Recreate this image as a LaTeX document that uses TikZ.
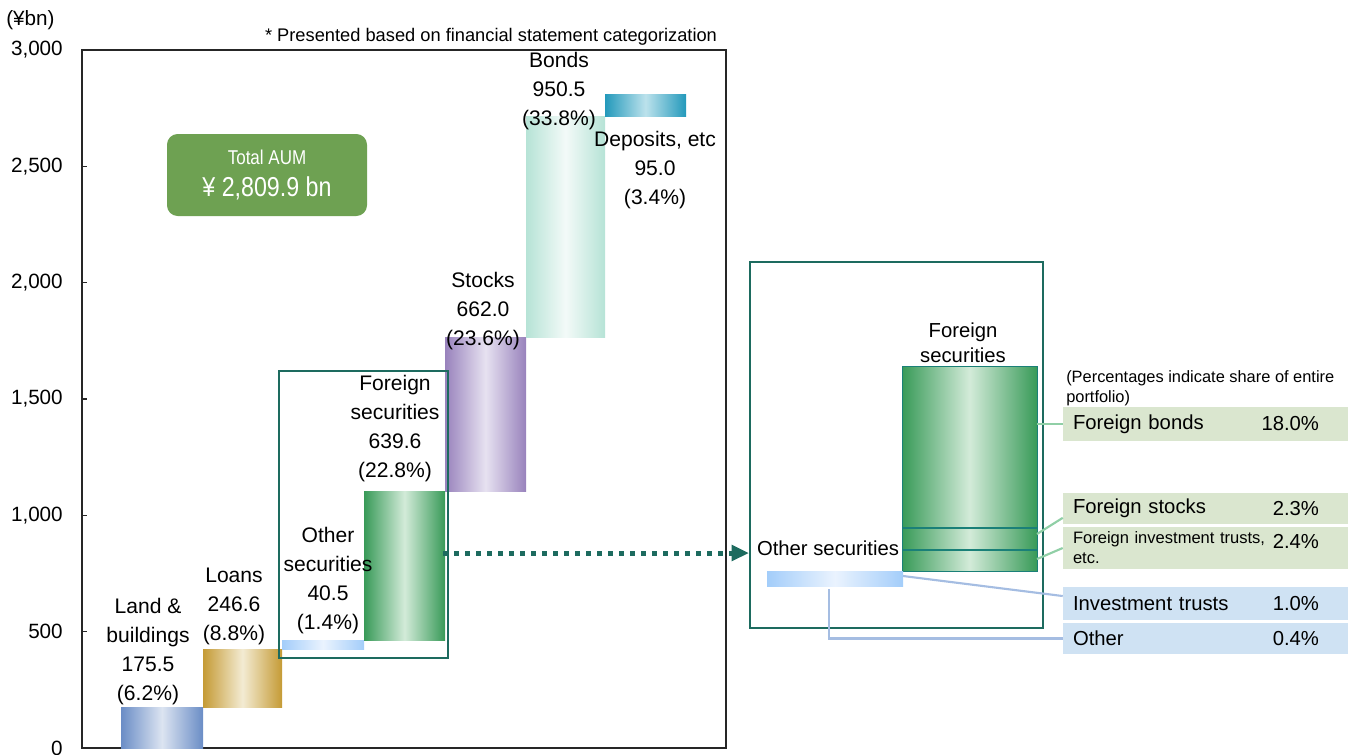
\documentclass[tikz,border=0pt]{standalone}
\usepackage{fontspec}
\setmainfont{Liberation Sans}
\newfontfamily\narrowfont[FakeStretch=0.85]{Liberation Sans}
\usetikzlibrary{arrows.meta}

\definecolor{boxteal}{HTML}{1D6B5F}
\definecolor{aumgreen}{HTML}{6EA152}
\definecolor{leggreen}{HTML}{DAE6CF}
\definecolor{legblue}{HTML}{CFE2F3}
\definecolor{linkgreen}{HTML}{90CFA6}
\definecolor{linkblue}{HTML}{A5BDE2}
\definecolor{landdark}{HTML}{6A8DC6}
\definecolor{landlight}{HTML}{DCE4F1}
\definecolor{loandark}{HTML}{C59B35}
\definecolor{loanlight}{HTML}{F3EBD3}
\definecolor{othdark}{HTML}{A3CDFA}
\definecolor{othlight}{HTML}{EAF3FE}
\definecolor{fordark}{HTML}{389A58}
\definecolor{forlight}{HTML}{D3EBD9}
\definecolor{stockdark}{HTML}{9882BC}
\definecolor{stocklight}{HTML}{E7E2F1}
\definecolor{bonddark}{HTML}{B6E3D6}
\definecolor{bondlight}{HTML}{F3FAF8}
\definecolor{depdark}{HTML}{2399BB}
\definecolor{deplight}{HTML}{BCE2EC}
\definecolor{forline}{HTML}{1A8078}

\begin{document}
\begin{tikzpicture}[x=0.75pt, y=-0.75pt,
        every node/.style={inner sep=0pt},
        lbl/.style={align=center, font=\fontsize{15.8}{21.75}\selectfont},
        ticklbl/.style={anchor=east, font=\fontsize{15.5}{18}\selectfont},
        bar/.style 2 args={left color=#1, right color=#1, middle color=#2},
        axisline/.style={black!85, line width=0.9pt},
        hlbox/.style={boxteal, line width=2pt},
        leg/.style={fill=#1, minimum width=213.75pt, text width=198.75pt,
            inner xsep=7.5pt, align=left, font=\fontsize{15.2}{18}\selectfont},
        pct/.style={anchor=east, font=\fontsize{15.2}{18}\selectfont},
        greenlink/.style={linkgreen, line width=1.6pt},
        bluelink/.style={linkblue, line width=1.6pt},
        dotlink/.style={boxteal, line width=3.75pt, dash pattern=on 3.5pt off 4.75pt,
            -{Triangle[length=13pt, width=11.5pt]}}
    ]
    \useasboundingbox (0,0) rectangle (1359,754);

    % axis frame and ticks
    \draw[axisline] (82,50) rectangle (726,748);
    \node[anchor=west, font=\fontsize{15.5}{18}\selectfont] (unit) at (6,20) {(¥bn)};
    \foreach \v/\t in {0/0, 500/500, 1000/{1,000}, 1500/{1,500}, 2000/{2,000}, 2500/{2,500}, 3000/{3,000}} {
        \pgfmathsetmacro\ty{748-\v*0.232667}
        \draw[axisline] (82,\ty) -- (87,\ty);
        \node[ticklbl] (tick\v) at (63,\ty) {\t};
    }
    \node[font=\fontsize{13.7}{16}\selectfont] (note) at (491,37)
        {* Presented based on financial statement categorization};

    % waterfall bars
    \shade[bar={landdark}{landlight}] (121,748) rectangle (203,707.2);
    \shade[bar={loandark}{loanlight}] (203,707.2) rectangle (282,649.8);
    \shade[bar={othdark}{othlight}] (282,649.8) rectangle (364,640.4);
    \shade[bar={fordark}{forlight}] (364,640.4) rectangle (445,491.6);
    \shade[bar={stockdark}{stocklight}] (445,491.6) rectangle (526,337.5);
    \shade[bar={bonddark}{bondlight}] (526,337.5) rectangle (605,116.4);
    \shade[bar={depdark}{deplight}] (605,116.4) rectangle (686,94.3);

    % total box
    \node[fill=aumgreen, rounded corners=8pt, minimum width=150pt, minimum height=61.5pt,
        text=white, align=center, font=\narrowfont\fontsize{15}{24}\selectfont]
        (aum) at (267,175) {Total AUM\\{\fontsize{20.5}{24}\selectfont ¥ 2,809.9 bn}};

    % bar labels
    \node[lbl] (land) at (148,651.5) {Land \&\\buildings\\175.5\\(6.2\%)};
    \node[lbl] (loans) at (234,606.5) {Loans\\246.6\\(8.8\%)};
    \node[lbl] (othsec) at (328,581) {Other\\securities\\40.5\\(1.4\%)};
    \node[lbl] (forsec) at (395,428.5) {Foreign\\securities\\639.6\\(22.8\%)};
    \node[lbl] (stocks) at (483,311) {Stocks\\662.0\\(23.6\%)};
    \node[lbl] (bonds) at (559,91.5) {Bonds\\950.5\\(33.8\%)};
    \node[lbl] (deposits) at (655,170.5) {Deposits, etc\\95.0\\(3.4\%)};

    % securities frame and the zoomed frame
    \draw[hlbox] (279,371) rectangle (448,658);
    \draw[hlbox] (750,262) rectangle (1043,628);
    \coordinate (zoomout) at (443,553);
    \coordinate (zoomin) at (749,553);
    \draw[dotlink] (zoomout) -- (zoomin);

    % breakdown bars
    \shade[bar={fordark}{forlight}] (902,366) rectangle (1037,571);
    \draw[forline, line width=0.7pt] (902,366) rectangle (1037,571);
    \draw[forline, line width=1pt] (902,528) -- (1037,528);
    \draw[forline, line width=1pt] (902,550) -- (1037,550);
    \shade[bar={othdark}{othlight}] (767,571) rectangle (903,586);
    \node[lbl, font=\fontsize{15.2}{18.75}\selectfont] (forhead) at (963,342.5) {Foreign\\securities};
    \node[font=\fontsize{15.2}{18}\selectfont] (othhead) at (828,548) {Other securities};

    % breakdown legend
    \node[anchor=west, align=left, font=\fontsize{12.3}{15}\selectfont] (share) at (1066,388)
        {(Percentages indicate share of entire\\portfolio)};
    \node[leg=leggreen, minimum height=25.5pt] (fbonds) at (1205.5,424) {Foreign bonds};
    \node[leg=leggreen, minimum height=23.25pt] (fstocks) at (1205.5,508.5) {Foreign stocks};
    \node[leg=leggreen, minimum height=31.5pt, font=\fontsize{12.4}{15}\selectfont]
        (ftrusts) at (1205.5,548) {Foreign investment trusts,\\etc.};
    \node[leg=legblue, minimum height=24.75pt] (itrusts) at (1205.5,603.5) {Investment trusts};
    \node[leg=legblue, minimum height=23.25pt] (other) at (1205.5,638.5) {Other};
    \node[pct] (fbonds-pct) at ([xshift=-21.75pt]fbonds.east) {18.0\%};
    \node[pct] (fstocks-pct) at ([xshift=-21.75pt]fstocks.east) {2.3\%};
    \node[pct] (ftrusts-pct) at ([xshift=-21.75pt, yshift=5pt]ftrusts.east) {2.4\%};
    \node[pct] (itrusts-pct) at ([xshift=-21.75pt]itrusts.east) {1.0\%};
    \node[pct] (other-pct) at ([xshift=-21.75pt]other.east) {0.4\%};

    % links to legend
    \coordinate (fb-link) at (1037,424);
    \coordinate (fs-link) at (1037,534);
    \coordinate (ft-link) at (1037,559);
    \coordinate (it-link) at (903,576);
    \coordinate (ot-link) at (829,589);
    \draw[greenlink] (fb-link) -- (fbonds.west);
    \draw[greenlink] (fs-link) -- ([yshift=-7pt]fstocks.west);
    \draw[greenlink] (ft-link) -- (ftrusts.west);
    \draw[bluelink] (it-link) -- ([yshift=5.6pt]itrusts.west);
    \draw[bluelink] (ot-link) |- (other.west);
\end{tikzpicture}
\end{document}
